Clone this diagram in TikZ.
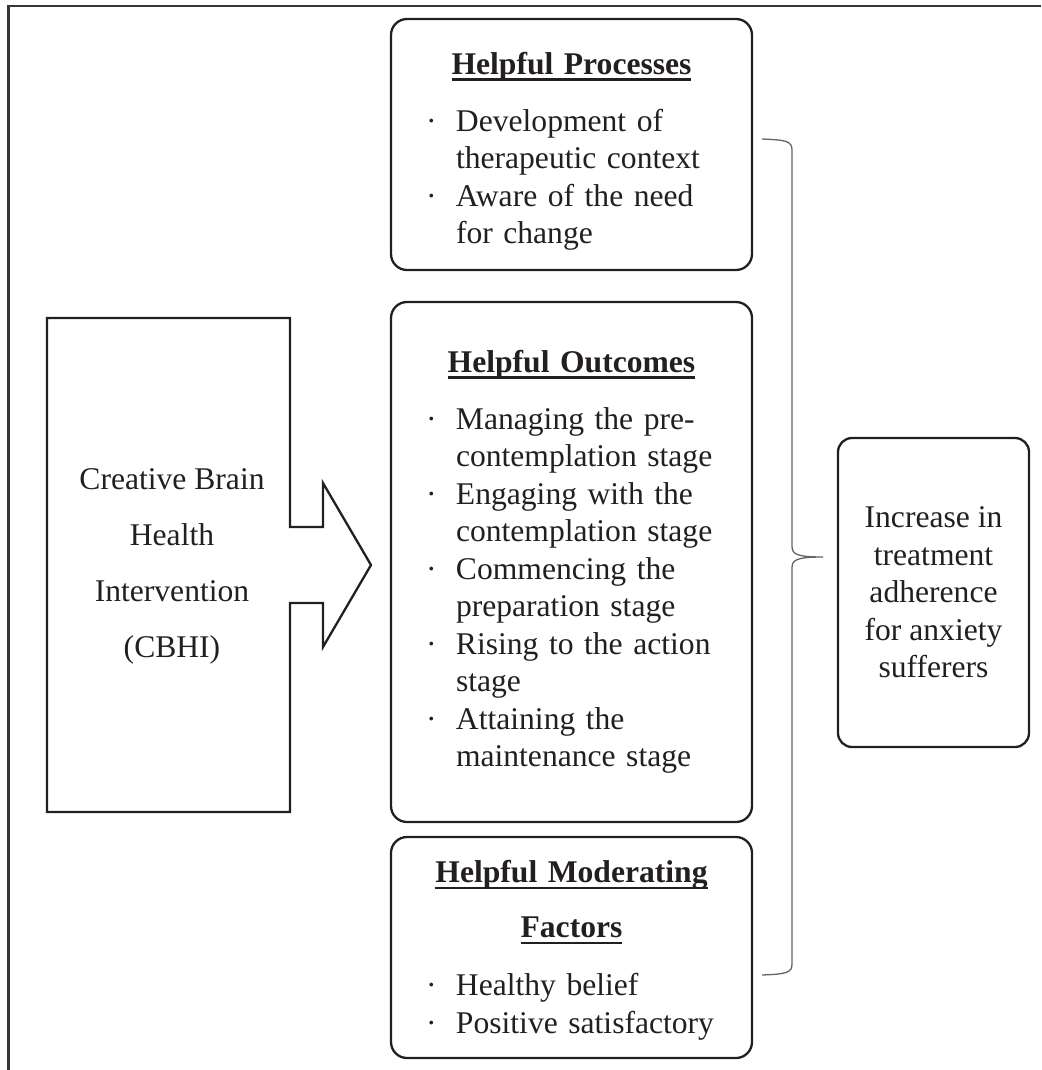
\documentclass[tikz,border=0pt]{standalone}
\usepackage{fontspec}
\setmainfont{Liberation Serif}
\definecolor{inkc}{RGB}{35,31,32}
\newcommand{\headul}[1]{\leavevmode\setbox0\hbox{#1}\rlap{\rule[-6.5pt]{\wd0}{2.6pt}}\box0}
\newcommand{\bitem}[1]{\noindent\llap{\makebox[30pt][l]{\textperiodcentered}}#1\par}
\begin{document}
\begin{tikzpicture}[x=1pt,y=-1pt,line join=miter]
        \tikzstyle{panel}=[draw=inkc,line width=2.3pt,rounded corners=16pt,minimum width=361pt,inner xsep=0pt,text width=361pt,text=inkc,font=\fontsize{31.6}{37.5}\selectfont]
        \tikzstyle{result}=[draw=inkc,line width=2.3pt,rounded corners=14pt,minimum width=191pt,minimum height=309pt,align=center,text=inkc,font=\fontsize{31.6}{37.5}\selectfont]
        \tikzstyle{frame}=[draw=inkc!90,line width=2.2pt]
        \tikzstyle{brace}=[draw=inkc!70,line width=1.3pt]
        \useasboundingbox (0,0) rectangle (1041,1070);
        % outer frame (left and top only)
        \draw[frame] (8.5,1070) -- (8.5,6) -- (1041,6);
        % intervention box with arrow
        \draw[draw=inkc,line width=2.3pt] (47,318) -- (290,318) -- (290,527) -- (323,527) -- (323,483)
          -- (371,565) -- (323,647) -- (323,603) -- (290,603) -- (290,812) -- (47,812) -- cycle;
        \node [align=center,text=inkc,font=\fontsize{31.6}{56}\selectfont] (cbhi) at (172,566)
          {Creative Brain\\Health\\Intervention\\(CBHI)};
       \begin{scope}
         \node [panel,minimum height=251pt] (proc) at (571.5,144.5) {%
           {\centering\bfseries\rule{0pt}{36pt}\headul{Helpful Processes}\par}\vspace{19.5pt}
           {\leftskip=65pt
           \bitem{Development of\\therapeutic context}
           \bitem{Aware of the need\\for change}}};
         \node [panel,minimum height=520pt] (outc) at (571.5,562) {%
           {\centering\bfseries\headul{Helpful Outcomes}\par}\vspace{19.5pt}
           {\leftskip=65pt
           \bitem{Managing the pre-\\contemplation stage}
           \bitem{Engaging with the\\contemplation stage}
           \bitem{Commencing the\\preparation stage}
           \bitem{Rising to the action\\stage}
           \bitem{Attaining the\\maintenance stage}}};
         \node [panel,minimum height=221pt] (modf) at (571.5,947.5) {%
           {\centering\bfseries\fontsize{31.6}{55}\selectfont\rule{0pt}{28pt}\headul{Helpful Moderating}\\\headul{Factors}\par}\vspace{20.5pt}
           {\leftskip=65pt
           \bitem{Healthy belief}
           \bitem{Positive satisfactory}}};
         \node [result] (adh) at (933.5,592.5)
           {Increase in\\treatment\\adherence\\for anxiety\\sufferers};
        \end{scope}
        % brace gathering the three panels
        \coordinate (bt) at (762,139);
        \coordinate (btip) at (823,557);
        \coordinate (bb) at (762,975);
        \path[brace] (bt) .. controls (786,140) and (792,141) .. (792,150) -- (792,546)
          .. controls (792,554) and (796,557) .. (btip)
          .. controls (796,557) and (792,560) .. (792,568) -- (792,964)
          .. controls (792,973) and (786,974) .. (bb);
      \end{tikzpicture}
\end{document}
